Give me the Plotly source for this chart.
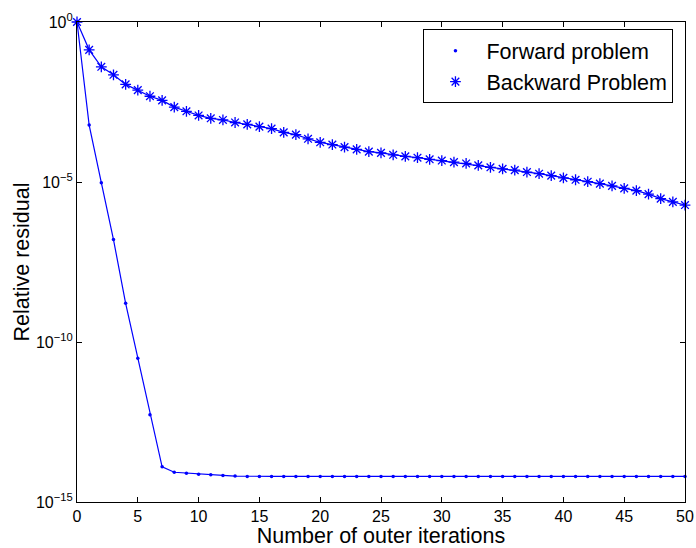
import plotly.graph_objects as go

iterations = list(range(51))

# log10 of relative residual
forward_log = [0, -3.22, -5.02, -6.8, -8.79, -10.51, -12.27, -13.9, -14.07, -14.10,
               -14.13, -14.15, -14.17, -14.19] + [-14.2] * 37
backward_log = [0, -0.87, -1.40, -1.65, -1.95, -2.13, -2.32, -2.45, -2.66, -2.79,
                -2.92, -3.01, -3.06, -3.14, -3.20, -3.27, -3.33, -3.45, -3.52, -3.65,
                -3.76, -3.83, -3.91, -3.98, -4.05, -4.09, -4.15, -4.20, -4.24, -4.29,
                -4.33, -4.38, -4.42, -4.48, -4.54, -4.59, -4.63, -4.69, -4.74, -4.80,
                -4.87, -4.93, -4.99, -5.05, -5.12, -5.20, -5.27, -5.38, -5.52, -5.62,
                -5.72]
forward = [10 ** v for v in forward_log]
backward = [10 ** v for v in backward_log]

x_ticks = [0, 5, 10, 15, 20, 25, 30, 35, 40, 45, 50]
y_ticks = [1e0, 1e-5, 1e-10, 1e-15]
y_tick_text = ["10<sup>0</sup>", "10<sup>\u22125</sup>", "10<sup>\u221210</sup>", "10<sup>\u221215</sup>"]

blue = "#0000ff"
font = "Liberation Sans, Arial, Helvetica, sans-serif"

fig = go.Figure()
fig.add_trace(go.Scatter(x=iterations, y=forward, mode="lines", line=dict(color=blue, width=1.2),
                         showlegend=False, cliponaxis=False))
fig.add_trace(go.Scatter(x=iterations, y=backward, mode="lines", line=dict(color=blue, width=1.2),
                         showlegend=False, cliponaxis=False))
fig.add_trace(go.Scatter(x=iterations, y=forward, mode="markers", name="Forward problem",
                         marker=dict(symbol="circle", size=3.5, color=blue), cliponaxis=False))
fig.add_trace(go.Scatter(x=iterations, y=backward, mode="markers", name="Backward Problem",
                         marker=dict(symbol="asterisk-open", size=9, color=blue,
                                     line=dict(color=blue, width=1.3)), cliponaxis=False))

fig.update_layout(
    width=696, height=548,
    margin=dict(l=77, r=11, t=22, b=46),
    paper_bgcolor="white", plot_bgcolor="white",
    font=dict(family=font, size=16, color="black"),
    xaxis=dict(range=[0, 50], tickvals=x_ticks, ticks="inside", ticklen=5, tickcolor="black",
               showline=True, linecolor="black", linewidth=1.2, mirror="ticks", showgrid=False,
               zeroline=False, tickfont=dict(size=16), automargin=False,
               title=dict(text="Number of outer iterations", font=dict(size=21.5), standoff=9)),
    yaxis=dict(type="log", range=[-15, 0], tickvals=y_ticks, ticktext=y_tick_text,
               ticks="inside", ticklen=5, tickcolor="black",
               showline=True, linecolor="black", linewidth=1.2, mirror="ticks", showgrid=False,
               zeroline=False, tickfont=dict(size=16), automargin=False,
               title=dict(text="Relative residual", font=dict(size=21.5), standoff=0)),
    legend=dict(x=0.981, y=0.985, xanchor="right", yanchor="top", bordercolor="black",
                borderwidth=1, bgcolor="white", font=dict(size=21.5), tracegroupgap=0,
                itemwidth=52),
)

# remove the browser's default page margin so the figure sits at the window's corner
fig.write_html("out.html", config={"displayModeBar": False},
               post_script="document.body.style.margin='0px';document.body.style.overflow='hidden';")
